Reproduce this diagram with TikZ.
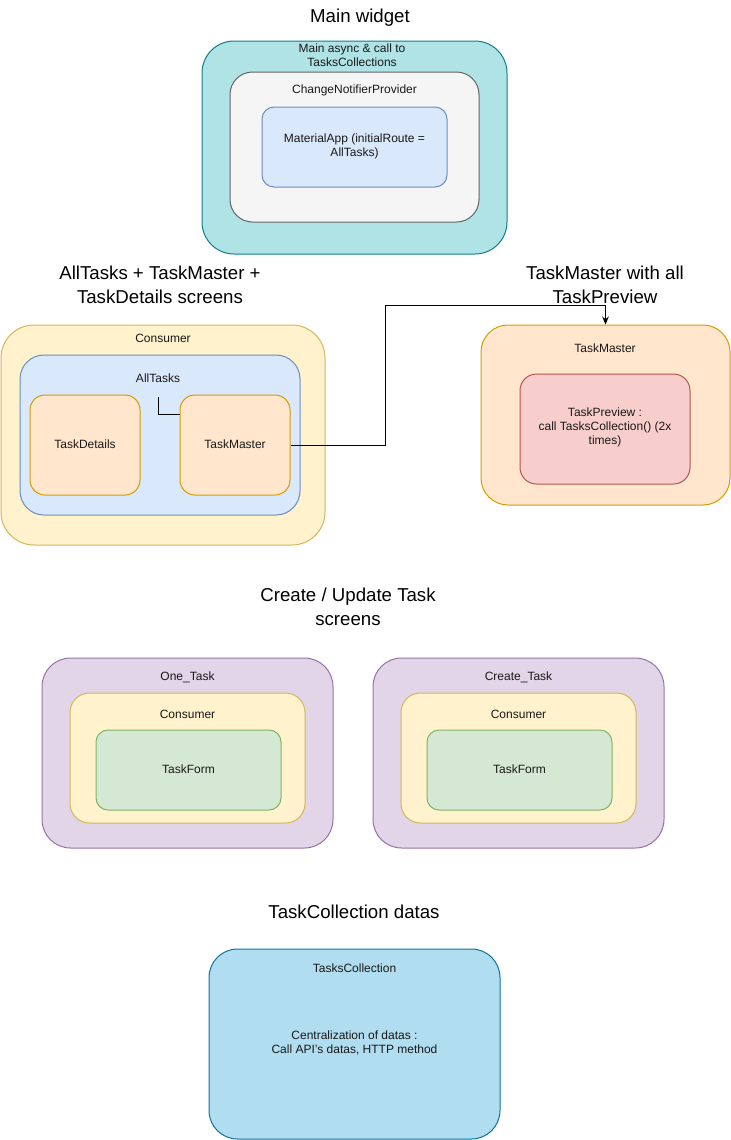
\documentclass[tikz,border=0pt]{standalone}
\usepackage{fontspec}
\setmainfont{Liberation Sans}
\usetikzlibrary{arrows.meta}
\definecolor{tealF}{HTML}{B0E3E6}\definecolor{tealD}{HTML}{0E8088}
\definecolor{grayF}{HTML}{F5F5F5}\definecolor{grayD}{HTML}{666666}
\definecolor{blueF}{HTML}{DAE8FC}\definecolor{blueD}{HTML}{6C8EBF}
\definecolor{yelF}{HTML}{FFF2CC}\definecolor{yelD}{HTML}{D6B656}
\definecolor{orF}{HTML}{FFE6CC}\definecolor{orD}{HTML}{D79B00}
\definecolor{redF}{HTML}{F8CECC}\definecolor{redD}{HTML}{B85450}
\definecolor{purF}{HTML}{E1D5E7}\definecolor{purD}{HTML}{9673A6}
\definecolor{grnF}{HTML}{D5E8D4}\definecolor{grnD}{HTML}{82B366}
\definecolor{skyF}{HTML}{B1DDF0}\definecolor{skyD}{HTML}{10739E}
\tikzset{
  box/.style={draw, line width=0.75pt, inner sep=0pt},
  lbl/.style={font=\fontsize{9}{10.5}\selectfont, align=center, inner sep=0pt, text=black!90},
  ttl/.style={font=\fontsize{14}{18}\selectfont, align=center, inner sep=0pt},
  conn/.style={line width=0.75pt, draw=black},
}
\begin{document}
\begin{tikzpicture}[x=0.75pt,y=-0.75pt]
\useasboundingbox (0,0) rectangle (731,1140);
% Main widget
\node[ttl] (t1) at (360,18) {Main widget};
\node[box, fill=tealF, draw=tealD, minimum width=228.75pt, minimum height=159.75pt, rounded corners=24pt] (main) at (354.5,147.5) {};
\node[lbl] (mainl) at (352,55) {Main async \& call to\\TasksCollections};
\node[box, fill=grayF, draw=grayD, minimum width=186.75pt, minimum height=112.5pt, rounded corners=16.9pt] (cnp) at (354.5,147) {};
\node[lbl] (cnpl) at (354.5,90) {ChangeNotifierProvider};
\node[box, fill=blueF, draw=blueD, minimum width=138.75pt, minimum height=60pt, rounded corners=9pt] (mat) at (354.5,147) {};
\node[lbl] (matl) at (354.5,146) {MaterialApp (initialRoute =\\AllTasks)};
% AllTasks section
\node[ttl] (t2) at (160,284.5) {AllTasks + TaskMaster +\\TaskDetails screens};
\node[box, fill=yelF, draw=yelD, minimum width=243pt, minimum height=165pt, rounded corners=24.75pt] (cons1) at (163,435) {};
\node[lbl] (cons1l) at (163,338) {Consumer};
\node[box, fill=blueF, draw=blueD, minimum width=210pt, minimum height=120pt, rounded corners=18pt] (all) at (160,435) {};
\node[lbl] (alll) at (158,378) {AllTasks};
\node[box, fill=orF, draw=orD, minimum width=82.5pt, minimum height=75pt, rounded corners=11.25pt] (td) at (85,445) {};
\node[lbl] (tdl) at (85,444) {TaskDetails};
\node[box, fill=orF, draw=orD, minimum width=82.5pt, minimum height=75pt, rounded corners=11.25pt] (tm) at (235,445) {};
\node[lbl] (tml) at (235,444) {TaskMaster};
\coordinate (stub) at (158,397);
\coordinate (stubend) at (180,414);
\draw[conn] (stub) |- (stubend);
% TaskMaster section
\node[ttl] (t3) at (605,284.5) {TaskMaster with all\\TaskPreview};
\node[box, fill=orF, draw=orD, minimum width=186.75pt, minimum height=135pt, rounded corners=20.25pt] (tmr) at (605.5,415) {};
\node[lbl] (tmrl) at (605,348) {TaskMaster};
\node[box, fill=redF, draw=redD, minimum width=127.5pt, minimum height=82.5pt, rounded corners=12.4pt] (tp) at (605,429) {};
\node[lbl] (tpl) at (605,427) {TaskPreview :\\call TasksCollection() (2x\\times)};
\coordinate (bend) at (385,305);
\draw[conn, -{Stealth[length=6pt,width=5pt]}] (tm.east) -| (bend) -| (tmr.north);
% Create / Update
\node[ttl] (t4) at (348,606.5) {Create / Update Task\\screens};
\node[box, fill=purF, draw=purD, minimum width=218.25pt, minimum height=142.5pt, rounded corners=21.4pt] (one) at (187.5,753) {};
\node[lbl] (onel) at (187.5,677) {One\_Task};
\node[box, fill=yelF, draw=yelD, minimum width=176.25pt, minimum height=97.5pt, rounded corners=14.6pt] (cons2) at (187.5,758) {};
\node[lbl] (cons2l) at (187.5,714) {Consumer};
\node[box, fill=grnF, draw=grnD, minimum width=138.75pt, minimum height=60pt, rounded corners=9pt] (tf1) at (188.5,770) {};
\node[lbl] (tf1l) at (188.5,769) {TaskForm};
\node[box, fill=purF, draw=purD, minimum width=218.25pt, minimum height=142.5pt, rounded corners=21.4pt] (cre) at (518.5,753) {};
\node[lbl] (crel) at (518.5,677) {Create\_Task};
\node[box, fill=yelF, draw=yelD, minimum width=176.25pt, minimum height=97.5pt, rounded corners=14.6pt] (cons3) at (518.5,758) {};
\node[lbl] (cons3l) at (518.5,714) {Consumer};
\node[box, fill=grnF, draw=grnD, minimum width=138.75pt, minimum height=60pt, rounded corners=9pt] (tf2) at (519.5,770) {};
\node[lbl] (tf2l) at (519.5,769) {TaskForm};
% TaskCollection
\node[ttl] (t5) at (354,912) {TaskCollection datas};
\node[box, fill=skyF, draw=skyD, minimum width=218.25pt, minimum height=142.5pt, rounded corners=21.4pt] (tc) at (354.5,1044) {};
\node[lbl] (tcl) at (354.5,968) {TasksCollection};
\node[lbl] (tcd) at (354.5,1043) {Centralization of datas :\\Call API's datas, HTTP method};
\end{tikzpicture}
\end{document}
